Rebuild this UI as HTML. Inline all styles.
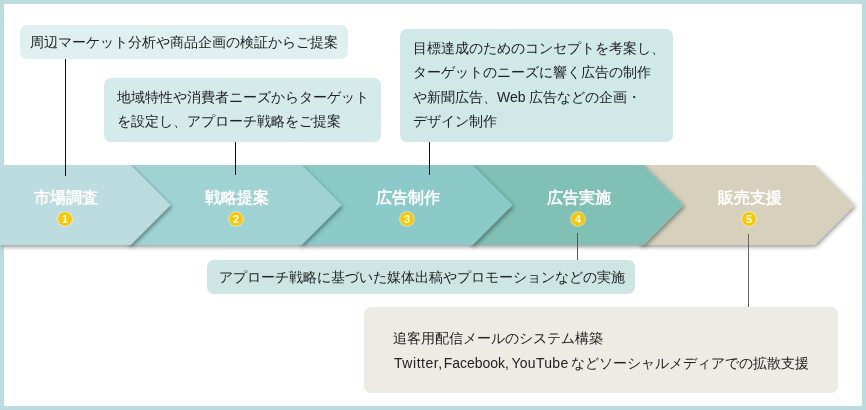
<!DOCTYPE html>
<html><head><meta charset="utf-8">
<style>
*{margin:0;padding:0;box-sizing:border-box}
html,body{width:866px;height:410px;overflow:hidden;background:#fff}
body{font-family:"Liberation Sans",sans-serif;color:#222;position:relative}
.frame{position:absolute;left:0;top:0;width:866px;height:410px;border:4px solid #bddcdf;background:#fff}
.box{will-change:transform;position:absolute;font-size:14px;line-height:24.5px;white-space:nowrap;border-radius:7px}
.t{background:#d4eaea}
svg{position:absolute;left:0;top:0}
.ttl{will-change:transform;position:absolute;width:120px;text-align:center;color:#fff;font-weight:bold;font-size:16px;line-height:20px}
.num{will-change:transform;position:absolute;width:14px;height:14px;border-radius:50%;background:#fbc700;box-shadow:0 0 0 0.8px rgba(255,255,255,0.55);color:#fff;font-weight:bold;font-size:11px;line-height:14px;text-align:center}
.ln{position:absolute;width:1px;background:#111}
</style></head><body>
<div class="frame"></div>
<svg width="866" height="410" viewBox="0 0 866 410">
<defs><filter id="sh" filterUnits="userSpaceOnUse" x="0" y="165" width="866" height="100"><feDropShadow dx="1.5" dy="2" stdDeviation="2" flood-color="#000" flood-opacity="0.4"/></filter></defs>
<polygon filter="url(#sh)" fill="#d6d0bd" points="640,165 814.5,165 854.5,205 814.5,245 640,245"/>
<polygon filter="url(#sh)" fill="#80c0b5" points="470,165 643.5,165 683.5,205 643.5,245 470,245"/>
<polygon filter="url(#sh)" fill="#8ccaca" points="300,165 472.5,165 512.5,205 472.5,245 300,245"/>
<polygon filter="url(#sh)" fill="#9fd3d3" points="128,165 301.5,165 341.5,205 301.5,245 128,245"/>
<polygon filter="url(#sh)" fill="#bddcdf" points="0,165 130.5,165 170.5,205 130.5,245 0,245"/>
</svg>
<div class="ln" style="left:65px;top:59px;height:117px"></div>
<div class="ln" style="left:235px;top:142px;height:33px"></div>
<div class="ln" style="left:429px;top:142px;height:33px"></div>
<div class="ln" style="left:577px;top:233px;height:28px;background:#555"></div>
<div class="ln" style="left:748px;top:234px;height:73px;background:#666"></div>

<div class="ttl" style="left:5.5px;top:188px">市場調査</div>
<div class="ttl" style="left:176.5px;top:188px">戦略提案</div>
<div class="ttl" style="left:347.5px;top:188px">広告制作</div>
<div class="ttl" style="left:518.5px;top:188px">広告実施</div>
<div class="ttl" style="left:689.5px;top:188px">販売支援</div>
<div class="num" style="left:58px;top:212px">1</div>
<div class="num" style="left:229px;top:212px">2</div>
<div class="num" style="left:400px;top:212px">3</div>
<div class="num" style="left:571px;top:212px">4</div>
<div class="num" style="left:742px;top:212px">5</div>

<div class="box t" style="left:20px;top:25px;width:328px;height:34px;padding:5px 10px;background:#e0f0f0">周辺マーケット分析や商品企画の検証からご提案</div>
<div class="box t" style="left:104px;top:78px;width:277px;height:64px;padding:6.5px 13px;background:#d5eaea">地域特性や消費者ニーズからターゲット<br>を設定し、アプローチ戦略をご提案</div>
<div class="box t" style="left:400px;top:29px;width:273px;height:113px;padding:6.5px 13px;background:#d0e8e8">目標達成のためのコンセプトを考案し、<br>ターゲットのニーズに響く広告の制作<br>や新聞広告、Web 広告などの企画・<br>デザイン制作</div>
<div class="box t" style="left:207px;top:260px;width:428px;height:34px;padding:5px 10px 5px 12px;background:#cde6e3">アプローチ戦略に基づいた媒体出稿やプロモーションなどの実施</div>
<div class="box" style="left:364px;top:307px;width:474px;height:86px;padding:19px 29px;line-height:25px;background:#eeebe5">追客用配信メールのシステム構築<br><span style="letter-spacing:.55px;margin-left:1px">Twitter,</span> <span style="margin-left:-3px">Facebook,</span> <span style="letter-spacing:.3px;margin-left:-1.5px">YouTube</span> <span style="margin-left:-1px">など</span>ソーシャルメディアでの拡散支援</div>
</body></html>
